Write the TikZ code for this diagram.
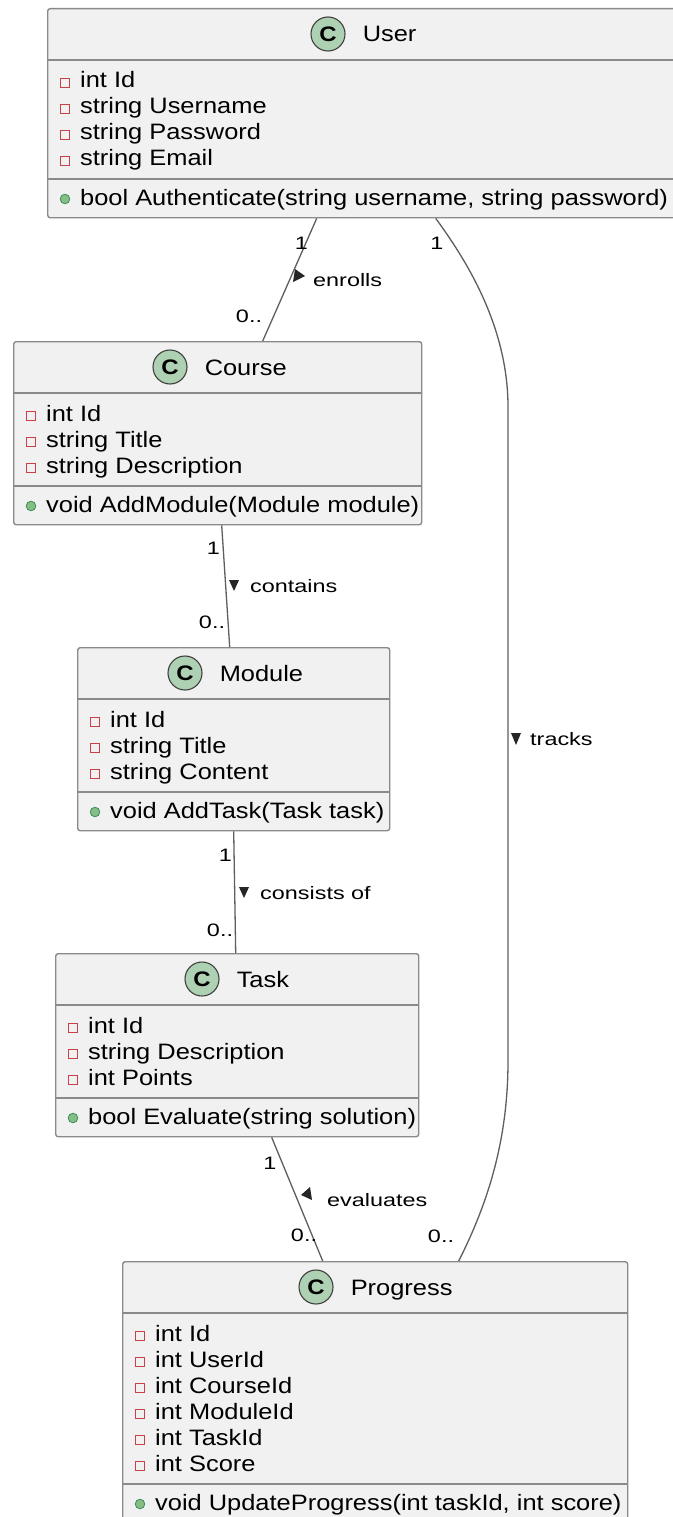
\documentclass[tikz,border=0pt]{standalone}
\usepackage{fontspec}
\setmainfont{Liberation Sans}[FakeStretch=1.14]
\newfontfamily\lblfont{Liberation Sans}[FakeStretch=1.3]
\usetikzlibrary{positioning}

\definecolor{boxfill}{HTML}{F1F1F1}
\definecolor{boxline}{HTML}{8A8A8A}
\definecolor{linkline}{HTML}{5E5E5E}
\definecolor{cgreen}{HTML}{ADD1B2}
\definecolor{privred}{HTML}{C84048}
\definecolor{pubfill}{HTML}{84BE84}
\definecolor{publine}{HTML}{3C8F5A}

\begin{document}
\begin{tikzpicture}[x=1pt, y=-1pt,
    cls/.style={draw=boxline, fill=boxfill, line width=1.4pt, rounded corners=2.5pt, anchor=north west, inner sep=0pt},
    sepline/.style={draw=boxline, line width=1.4pt},
    cicon/.style={circle, draw=black!75, fill=cgreen, line width=1.1pt, minimum size=34pt, inner sep=0pt, font=\fontsize{21}{21}\selectfont\bfseries},
    ctitle/.style={inner sep=0pt, text height=16pt, text depth=0pt, font=\fontsize{22.3}{26}\selectfont},
    member/.style={anchor=base west, inner sep=0pt, font=\fontsize{22.3}{26}\selectfont},
    privmark/.style={draw=privred, line width=1.3pt},
    pubmark/.style={fill=pubfill, draw=publine, line width=0.8pt},
    link/.style={draw=linkline, line width=1.3pt},
    mult/.style={inner sep=0pt, font=\lblfont\fontsize{18}{20}\selectfont},
    rel/.style={anchor=west, inner sep=0pt, font=\lblfont\fontsize{18}{20}\selectfont},
    dirmark/.style={fill=black!85}]

    % private field row / public method row
    \def\attr#1#2#3#4{\draw[privmark] (#2-19.5,#3-9.5) rectangle ++(9,9); \node[member] (#1) at (#2,#3) {#4};}
    \def\meth#1#2#3#4{\filldraw[pubmark] (#2-15,#3-6) circle (4.8pt); \node[member] (#1) at (#2,#3) {#4};}

    \path[use as bounding box, fill=white] (0,0) rectangle (672,1517);

    % User
    \node[cls, minimum width=628, minimum height=209] (User) at (47,8) {};
    \node[cicon] (UserC) at (328,34) {C};
    \node[ctitle, right=17pt of UserC] (UserT) {User};
    \draw[sepline] (User.west |- 0,60) -- (User.east |- 0,60);
    \draw[sepline] (User.west |- 0,179) -- (User.east |- 0,179);
    \attr{User-a1}{80}{88}{int Id}
    \attr{User-a2}{80}{114}{string Username}
    \attr{User-a3}{80}{140}{string Password}
    \attr{User-a4}{80}{166}{string Email}
    \meth{User-m1}{80}{205}{bool Authenticate(string username, string password)}

    % Course
    \node[cls, minimum width=408, minimum height=183] (Course) at (13,341) {};
    \node[cicon] (CourseC) at (170,367) {C};
    \node[ctitle, right=17pt of CourseC] (CourseT) {Course};
    \draw[sepline] (Course.west |- 0,393) -- (Course.east |- 0,393);
    \draw[sepline] (Course.west |- 0,486) -- (Course.east |- 0,486);
    \attr{Course-a1}{46}{421}{int Id}
    \attr{Course-a2}{46}{447}{string Title}
    \attr{Course-a3}{46}{473}{string Description}
    \meth{Course-m1}{46}{512}{void AddModule(Module module)}

    % Module
    \node[cls, minimum width=312, minimum height=183] (Module) at (77,647) {};
    \node[cicon] (ModuleC) at (185,673) {C};
    \node[ctitle, right=17pt of ModuleC] (ModuleT) {Module};
    \draw[sepline] (Module.west |- 0,699) -- (Module.east |- 0,699);
    \draw[sepline] (Module.west |- 0,792) -- (Module.east |- 0,792);
    \attr{Module-a1}{110}{727}{int Id}
    \attr{Module-a2}{110}{753}{string Title}
    \attr{Module-a3}{110}{779}{string Content}
    \meth{Module-m1}{110}{818}{void AddTask(Task task)}

    % Task
    \node[cls, minimum width=363, minimum height=183] (Task) at (55,953) {};
    \node[cicon] (TaskC) at (202,979) {C};
    \node[ctitle, right=17pt of TaskC] (TaskT) {Task};
    \draw[sepline] (Task.west |- 0,1005) -- (Task.east |- 0,1005);
    \draw[sepline] (Task.west |- 0,1098) -- (Task.east |- 0,1098);
    \attr{Task-a1}{88}{1033}{int Id}
    \attr{Task-a2}{88}{1059}{string Description}
    \attr{Task-a3}{88}{1085}{int Points}
    \meth{Task-m1}{88}{1124}{bool Evaluate(string solution)}

    % Progress
    \node[cls, minimum width=505, minimum height=261] (Progress) at (122,1261) {};
    \node[cicon] (ProgressC) at (316,1287) {C};
    \node[ctitle, right=17pt of ProgressC] (ProgressT) {Progress};
    \draw[sepline] (Progress.west |- 0,1313) -- (Progress.east |- 0,1313);
    \draw[sepline] (Progress.west |- 0,1484) -- (Progress.east |- 0,1484);
    \attr{Progress-a1}{155}{1341}{int Id}
    \attr{Progress-a2}{155}{1367}{int UserId}
    \attr{Progress-a3}{155}{1393}{int CourseId}
    \attr{Progress-a4}{155}{1419}{int ModuleId}
    \attr{Progress-a5}{155}{1445}{int TaskId}
    \attr{Progress-a6}{155}{1471}{int Score}
    \meth{Progress-m1}{155}{1510}{void UpdateProgress(int taskId, int score)}

    % enrolls
    \draw[link] ([xshift=-45pt]User.south) -- ([xshift=45pt]Course.north);
    \node[mult] (enr-1) at (301.5,243) {1};
    \node[mult] (enr-0) at (249,316) {0..};
    \fill[dirmark] (295,269) -- (293,282) -- (305,276) -- cycle;
    \node[rel] (enr-lbl) at (313,280) {enrolls};

    % tracks
    \draw[link] ([xshift=74pt]User.south) .. controls (470,265) and (508,330) .. (508,407)
        -- (508,1061) .. controls (508,1140) and (488,1203) .. ([xshift=83.5pt]Progress.north);
    \node[mult] (trk-1) at (437,243) {1};
    \node[mult] (trk-0) at (441,1236) {0..};
    \fill[dirmark] (511,733) -- (521,733) -- (516,745) -- cycle;
    \node[rel] (trk-lbl) at (530,739) {tracks};

    % contains
    \draw[link] ([xshift=4pt]Course.south) -- ([xshift=-4pt]Module.north);
    \node[mult] (con-1) at (213.5,548) {1};
    \node[mult] (con-0) at (212,622) {0..};
    \fill[dirmark] (229,580) -- (239,580) -- (234,591) -- cycle;
    \node[rel] (con-lbl) at (250,586) {contains};

    % consists of
    \draw[link] (Module.south) -- ([xshift=-1.5pt]Task.north);
    \node[mult] (cof-1) at (225.5,855) {1};
    \node[mult] (cof-0) at (220,930) {0..};
    \fill[dirmark] (239,887) -- (249,887) -- (244,898) -- cycle;
    \node[rel] (cof-lbl) at (260,893) {consists of};

    % evaluates
    \draw[link] ([xshift=34.5pt]Task.south) -- ([xshift=-52.5pt]Progress.north);
    \node[mult] (evl-1) at (270,1163) {1};
    \node[mult] (evl-0) at (304,1235) {0..};
    \fill[dirmark] (310,1187) -- (312,1200) -- (301,1195) -- cycle;
    \node[rel] (evl-lbl) at (327,1200) {evaluates};
\end{tikzpicture}
\end{document}
